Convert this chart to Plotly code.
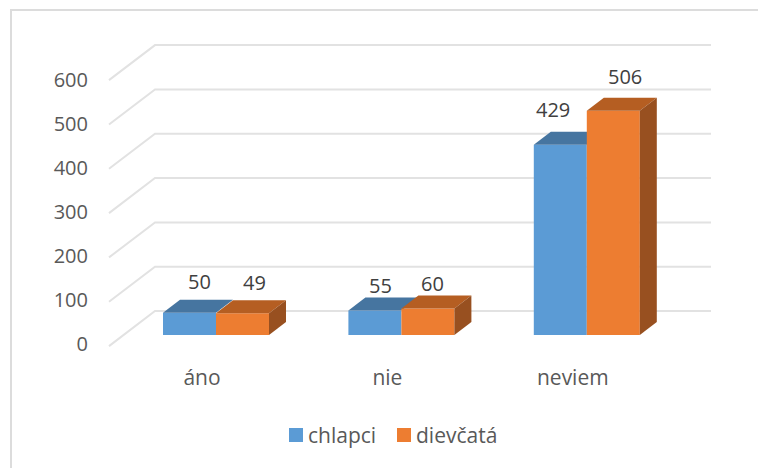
import plotly.graph_objects as go

categories = ["áno", "nie", "neviem"]
chlapci = [50, 55, 429]
dievcata = [49, 60, 506]
y_ticks = [0, 100, 200, 300, 400, 500, 600]

WIDTH = 758
HEIGHT = 468
FONT = "Open Sans"
BLUE = "#5B9BD5"
BLUE_TOP = "#4675A0"
ORANGE = "#ED7D31"
ORANGE_TOP = "#B55E22"
ORANGE_SIDE = "#985020"
GRID = "#E2E2E2"

# scale of the front plane of the bars
PX_PER_CAT = 185.4
PX_PER_VALUE = 0.4433
X0_PX = 216.0
Y0_PX = 335.0
BAR_W = 53 / PX_PER_CAT
# depth of the bars and of the wall, in axis units
BAR_DX = 17 / PX_PER_CAT
BAR_DY = 13 / PX_PER_VALUE
WALL_LEFT = -107 / PX_PER_CAT
WALL_BACK = -61 / PX_PER_CAT
WALL_RIGHT = 495 / PX_PER_CAT
WALL_FRONT_DY = -25
WALL_BACK_DY = 54

x_range = [-X0_PX / PX_PER_CAT, (WIDTH - X0_PX) / PX_PER_CAT]
y_range = [(Y0_PX - HEIGHT) / PX_PER_VALUE, Y0_PX / PX_PER_VALUE]
# the tick labels sit a little apart from the bar scale
label_scale = 0.4395
label_y0 = 343.7
label_range = [(label_y0 - HEIGHT) / label_scale, label_y0 / label_scale]

# label nudges in pixels, (x, y) from the top of the front face centre
label_shift_chlapci = [(10, 31), (6, 25), (-7, 35)]
label_shift_dievcata = [(12, 31), (5, 25), (12, 34)]


def top_face(x_left, value):
    xs = [x_left, x_left + BAR_W, x_left + BAR_W + BAR_DX, x_left + BAR_DX, x_left]
    ys = [value, value, value + BAR_DY, value + BAR_DY, value]
    return xs, ys


def side_face(x_right, value):
    xs = [x_right, x_right + BAR_DX, x_right + BAR_DX, x_right, x_right]
    ys = [0, BAR_DY, value + BAR_DY, value, 0]
    return xs, ys


fig = go.Figure()

# front faces are real bars, orange ones on an overlaid subplot so they cover the blue tops
fig.add_trace(go.Bar(x=list(range(3)), y=chlapci, width=BAR_W, offset=-BAR_W,
                     marker=dict(color=BLUE, line_width=0), name="chlapci",
                     xaxis="x", yaxis="y"))
for i, v in enumerate(chlapci):
    xs, ys = top_face(i - BAR_W, v)
    fig.add_trace(go.Scatter(x=xs, y=ys, mode="lines", fill="toself", fillcolor=BLUE_TOP,
                             line=dict(width=0), xaxis="x", yaxis="y"))

fig.add_trace(go.Bar(x=list(range(3)), y=dievcata, width=BAR_W, offset=0,
                     marker=dict(color=ORANGE, line_width=0), name="dievčatá",
                     xaxis="x2", yaxis="y2"))
for i, v in enumerate(dievcata):
    xs, ys = top_face(i, v)
    fig.add_trace(go.Scatter(x=xs, y=ys, mode="lines", fill="toself", fillcolor=ORANGE_TOP,
                             line=dict(width=0), xaxis="x2", yaxis="y2"))
    xs, ys = side_face(i + BAR_W, v)
    fig.add_trace(go.Scatter(x=xs, y=ys, mode="lines", fill="toself", fillcolor=ORANGE_SIDE,
                             line=dict(width=0), xaxis="x2", yaxis="y2"))

# carries the value axis labels
fig.add_trace(go.Scatter(x=[0], y=[0], mode="markers", marker=dict(opacity=0),
                         xaxis="x", yaxis="y3"))

# wall and floor lines
shapes = []
for t in y_ticks:
    shapes.append(dict(type="path", xref="x", yref="y", layer="below",
                       path=f"M {WALL_LEFT} {t + WALL_FRONT_DY} L {WALL_BACK} {t + WALL_BACK_DY} "
                            f"L {WALL_RIGHT} {t + WALL_BACK_DY}",
                       line=dict(color=GRID, width=2)))
# chart frame, only the top and left edges show
shapes.append(dict(type="path", xref="paper", yref="paper", layer="below",
                   path=f"M {11 / WIDTH} 0 L {11 / WIDTH} {1 - 10 / HEIGHT} L 1 {1 - 10 / HEIGHT}",
                   line=dict(color="#DCDCDC", width=2)))
# legend swatches
for left, color in [(289, BLUE), (397, ORANGE)]:
    shapes.append(dict(type="rect", xref="paper", yref="paper", layer="below",
                       x0=left / WIDTH, x1=(left + 14) / WIDTH,
                       y0=1 - 442 / HEIGHT, y1=1 - 428 / HEIGHT,
                       fillcolor=color, line_width=0))

annotations = []
for i, (v, shift) in enumerate(zip(chlapci, label_shift_chlapci)):
    annotations.append(dict(x=i - BAR_W / 2, y=v, xref="x", yref="y", text=str(v), showarrow=False,
                            xshift=shift[0], yshift=shift[1], font=dict(size=20, color="#404040")))
for i, (v, shift) in enumerate(zip(dievcata, label_shift_dievcata)):
    annotations.append(dict(x=i + BAR_W / 2, y=v, xref="x", yref="y", text=str(v), showarrow=False,
                            xshift=shift[0], yshift=shift[1], font=dict(size=20, color="#404040")))
for left, text in [(306, "chlapci"), (414, "dievčatá")]:
    annotations.append(dict(x=left / WIDTH, y=1 - 435 / HEIGHT, xref="paper", yref="paper", text=text,
                            xanchor="left", yanchor="middle", showarrow=False,
                            font=dict(size=21, color="#595959")))

axis_off = dict(visible=False, fixedrange=True)
fig.update_layout(
    width=WIDTH,
    height=HEIGHT,
    margin=dict(l=0, r=0, t=0, b=0),
    autosize=False,
    showlegend=False,
    hovermode=False,
    paper_bgcolor="white",
    plot_bgcolor="rgba(0,0,0,0)",
    font=dict(family=FONT, size=20, color="#595959"),
    shapes=shapes,
    annotations=annotations,
    xaxis=dict(range=x_range, domain=[0, 1], showgrid=False, zeroline=False, showline=False,
               tickmode="array", tickvals=[i - 14 / PX_PER_CAT for i in range(3)],
               ticktext=categories, anchor="free", position=1 - 363 / HEIGHT,
               ticks="", tickfont=dict(size=21, color="#595959")),
    xaxis2=dict(range=x_range, overlaying="x", **axis_off),
    yaxis=dict(range=y_range, domain=[0, 1], **axis_off),
    yaxis2=dict(range=y_range, overlaying="y", **axis_off),
    yaxis3=dict(range=label_range, overlaying="y", showgrid=False, zeroline=False, showline=False,
                tickmode="array", tickvals=y_ticks, anchor="free", side="left",
                position=88 / WIDTH, ticks="", tickfont=dict(size=20, color="#595959")),
)

fig.write_html("out.html", config={"displayModeBar": False},
               post_script="document.body.style.margin='0';")
